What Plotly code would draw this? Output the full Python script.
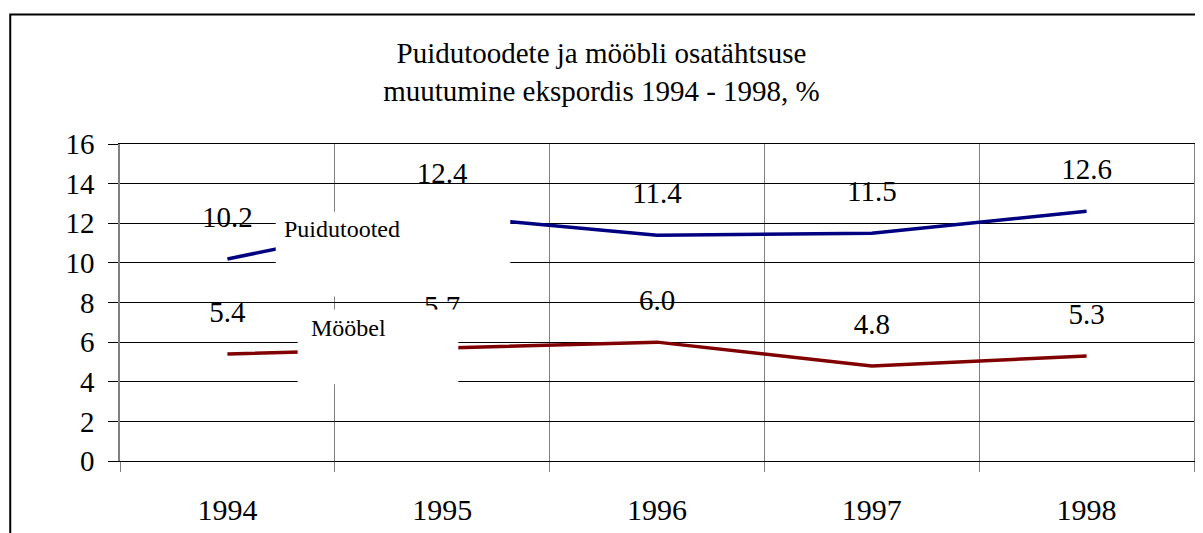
import plotly.graph_objects as go

years = ["1994", "1995", "1996", "1997", "1998"]
puidutooted = [10.2, 12.4, 11.4, 11.5, 12.6]
mööbel = [5.4, 5.7, 6.0, 4.8, 5.3]
series_names = ["Puidutooted", "Mööbel"]
y_ticks = [0, 2, 4, 6, 8, 10, 12, 14, 16]
title_text = "Puidutoodete ja mööbli osatähtsuse<br>muutumine ekspordis 1994 - 1998, %"

FONT = "Liberation Serif"
xpos = list(range(len(years)))

W, H = 1195, 525  # page body has an 8px margin

fig = go.Figure()
for vals, color in [(puidutooted, "#000080"), (mööbel, "#800000")]:
    fig.add_trace(go.Scatter(
        x=xpos, y=vals, mode="lines+markers+text",
        line=dict(color=color, width=3.5),
        marker=dict(size=38, color="rgba(0,0,0,0)"),
        text=[f"{v:.1f}" for v in vals], textposition="top center",
        textfont=dict(family=FONT, size=29, color="black"),
        hoverinfo="skip", showlegend=False, cliponaxis=False,
    ))

# white label boxes (data coords)
fig.add_shape(type="rect", xref="x", yref="y", x0=0.225, x1=1.317, y0=8.30, y1=12.58,
              fillcolor="white", line=dict(width=0), layer="above")
fig.add_shape(type="rect", xref="x", yref="y", x0=0.327, x1=1.075, y0=3.87, y1=7.65,
              fillcolor="white", line=dict(width=0), layer="above")
fig.add_annotation(x=0.252, y=11.7, xref="x", yref="y", text=series_names[0], showarrow=False,
                   xanchor="left", yanchor="middle", font=dict(family=FONT, size=24, color="black"))
fig.add_annotation(x=0.38, y=6.72, xref="x", yref="y", text=series_names[1], showarrow=False,
                   xanchor="left", yanchor="middle", font=dict(family=FONT, size=24, color="black"))

# outer chart border
fig.add_shape(type="rect", xref="paper", yref="paper", x0=-0.1022, x1=1.3, y0=-0.6, y1=1.4088,
              line=dict(color="black", width=2), fillcolor="rgba(0,0,0,0)", layer="above")

fig.update_layout(
    width=W, height=H,
    margin=dict(l=112, r=7, t=136, b=71),
    paper_bgcolor="white", plot_bgcolor="white",
    title=dict(text=title_text, x=0.5 - 4 / W, xref="container", y=1 - 55 / H, yref="container",
               xanchor="center", yanchor="middle",
               font=dict(family=FONT, size=29, color="black")),
    xaxis=dict(
        range=[-0.5, 4.5], tickmode="array", tickvals=xpos, ticktext=years,
        ticks="", showgrid=False, zeroline=False,
        showline=True, linecolor="black", linewidth=1, mirror=True,
        tickfont=dict(family=FONT, size=30, color="black"),
        ticklabelstandoff=22,
        minor=dict(tickmode="array", tickvals=[-0.5, 0.5, 1.5, 2.5, 3.5, 4.5],
                   ticks="outside", ticklen=10, tickcolor="#808080", tickwidth=1,
                   showgrid=True, gridcolor="#808080", gridwidth=1),
    ),
    yaxis=dict(
        range=[0, 16], tickmode="array", tickvals=y_ticks,
        ticks="outside", ticklen=10, tickcolor="black", tickwidth=1,
        showgrid=True, gridcolor="black", gridwidth=1, zeroline=False,
        showline=True, linecolor="#808080", linewidth=1.5, mirror=True,
        tickfont=dict(family=FONT, size=29, color="black"),
        ticklabelstandoff=8,
    ),
)

fig.write_html("out.html")
